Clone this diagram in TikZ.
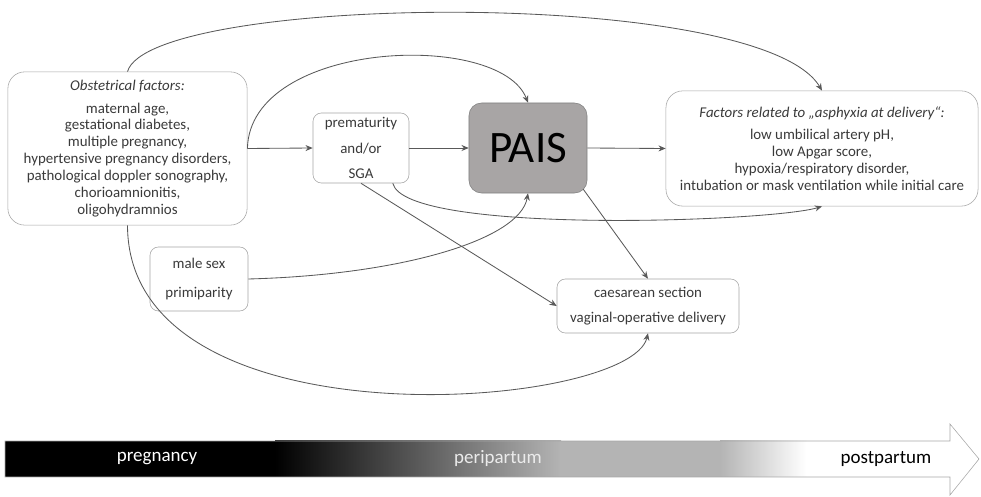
\documentclass[tikz,border=0pt]{standalone}
\usepackage{fontspec}
\setmainfont{Carlito}
\usetikzlibrary{arrows.meta,positioning,calc}
\definecolor{tdark}{HTML}{3A3A3A}
\definecolor{lgrey}{HTML}{A6A6A6}
\definecolor{pgrey}{HTML}{A8A5A5}
\definecolor{dgrey}{HTML}{595959}
\definecolor{bgrey}{HTML}{B4B4B4}
\tikzset{
  blk/.style={draw=lgrey,fill=white,rounded corners=6pt,align=center,text=tdark,
              font=\fontsize{10.6}{12}\selectfont,inner sep=2pt},
  arr/.style={-{Stealth[length=1.8mm,width=1.5mm]},semithick,dgrey},
  lbl/.style={font=\fontsize{13.5}{15}\selectfont},
}
\begin{document}
\begin{tikzpicture}[x=0.025cm,y=-0.025cm]
\useasboundingbox (0,0) rectangle (981,497);
% factor boxes
\node[blk,rounded corners=12pt,minimum width=5.98cm,minimum height=3.83cm] (obst) at (127.5,148.5) {\textit{Obstetrical factors:}\\[4pt]maternal age,\\gestational diabetes,\\multiple pregnancy,\\hypertensive pregnancy disorders,\\pathological doppler sonography,\\chorioamnionitis,\\oligohydramnios};
\node[blk,minimum width=2.4cm,minimum height=1.75cm] (prem) at (361,148) {prematurity\\[6pt]and/or\\[6pt]SGA};
\node[blk,fill=pgrey,draw=gray,rounded corners=9pt,minimum width=2.95cm,minimum height=2.25cm,text=black,font=\fontsize{32}{36}\selectfont] (pais) at (528,148) {PAIS};
\node[blk,rounded corners=12pt,minimum width=7.8cm,minimum height=2.88cm] (asph) at (822,148.5) {\textit{Factors related to „asphyxia at delivery“:}\\[4pt]low umbilical artery pH,\\low Apgar score,\\hypoxia/respiratory disorder,\\intubation or mask ventilation while initial care};
\node[blk,minimum width=2.45cm,minimum height=1.6cm] (male) at (199,279) {male sex\\[8pt]primiparity};
\node[blk,minimum width=4.55cm,minimum height=1.35cm] (caes) at (648,306) {caesarean section\\[6pt]vaginal-operative delivery};
% straight flows
\draw[arr] (obst.east) -- (prem.west);
\draw[arr] (prem.east) -- (pais.west);
\draw[arr] (pais.east) -- (asph.west);
\draw[arr] (prem.south) -- (caes.west);
\draw[arr] ($(pais.south east)+(-4,-4)$) -- (caes.north);
% curved flows
\draw[arr] (obst.north) .. controls (150,-6) and (760,-14) .. (asph.north);
\draw[arr] (obst.east) .. controls (250,40) and (500,30) .. (pais.north);
\draw[arr] (obst.south) .. controls (128,450) and (630,410) .. (caes.south);
\draw[arr] (prem.-48) .. controls (405,235) and (770,222) .. (asph.south);
\draw[arr] (male.east) .. controls (400,275) and (520,240) .. (pais.south);
% time line
\fill[black] (5,441) rectangle (276,477);
\shade[left color=black,right color=bgrey] (275,441) rectangle (561,477);
\fill[bgrey] (560,441) rectangle (721,477);
\shade[left color=bgrey,right color=white] (720,441) rectangle (806,477);
\draw[lgrey] (5,441) -- (950,441) -- (950,424) -- (979,459) -- (950,495) -- (950,477) -- (5,477) -- cycle;
\node[lbl,text=white] (preg) at (157,459) {pregnancy};
\node[lbl,text=black!8] (peri) at (498,459) {peripartum};
\node[lbl,text=black] (post) at (886,459) {postpartum};
\end{tikzpicture}
\end{document}
